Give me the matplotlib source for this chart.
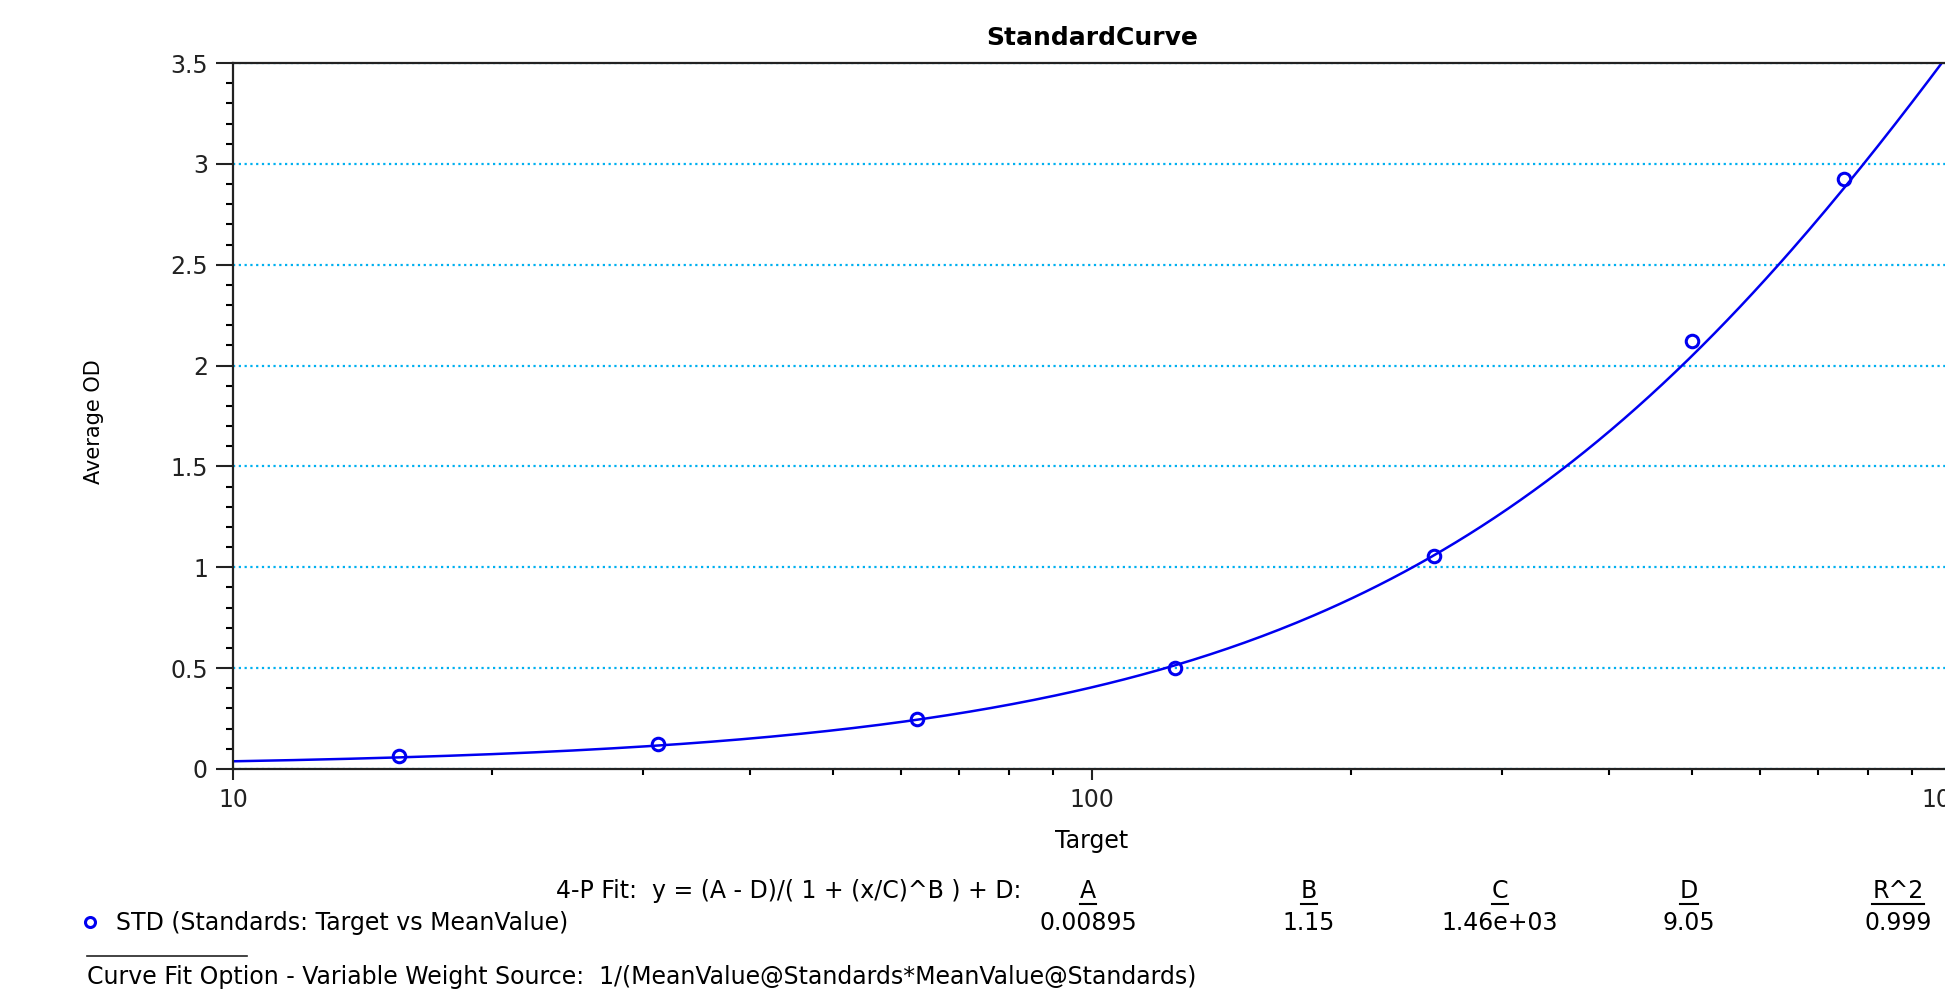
import numpy as np
import matplotlib
matplotlib.use('Agg')
import matplotlib.pyplot as plt
from matplotlib.lines import Line2D

plt.rcParams['font.family'] = ['DejaVu Sans']

# standards: target vs mean OD
target = [15.625, 31.25, 62.5, 125, 250, 500, 750]
mean_od = [0.064, 0.124, 0.248, 0.50, 1.055, 2.12, 2.925]

# 4-P fit parameters as printed under the chart
fit_names = ['A', 'B', 'C', 'D', 'R^2']
fit_labels = ['0.00895', '1.15', '1.46e+03', '9.05', '0.999']
A, B, C, D = 0.00895, 1.15, 1460.0, 9.05

blue = '#0000F0'
W, H = 1945, 1002
fig = plt.figure(figsize=(W / 100, H / 100), dpi=100)
ax = fig.add_axes([233 / W, 1 - 769 / H, 1718 / W, 706 / H])

xs = np.logspace(1, 3, 400)
ax.plot(xs, D + (A - D) / (1 + (xs / C) ** B), color=blue, lw=1.8)
pts, = ax.plot(target, mean_od, 'o', mfc='none', mec=blue, ms=9, mew=2.2,
               label='STD (Standards: Target vs MeanValue)')

ax.set_xscale('log')
ax.set_xlim(10, 1000)
ax.set_ylim(0, 3.5)
ax.set_yticks(np.arange(0, 3.51, 0.5))
ax.set_yticklabels(['0', '0.5', '1', '1.5', '2', '2.5', '3', '3.5'])
ax.set_yticks(np.arange(0, 3.51, 0.1), minor=True)
ax.set_xticks([10, 100, 1000])
ax.set_xticklabels(['10', '100', '1000'])
ax.yaxis.grid(True, which='major', color='#00B0F0', linestyle=(0, (1, 1.6)), lw=1.6)
ax.set_axisbelow(True)

ax.tick_params(axis='y', which='major', length=12, width=1.5, pad=6, labelsize=17, colors='#222222')
ax.tick_params(axis='y', which='minor', length=5, width=1.5)
ax.tick_params(axis='x', which='major', length=8, width=1.5, pad=6, labelsize=17, colors='#222222')
ax.tick_params(axis='x', which='minor', length=4, width=1.5)
for s in ['left', 'bottom', 'top']:
    ax.spines[s].set_linewidth(1.6)
    ax.spines[s].set_color('#222222')
ax.spines['right'].set_visible(False)

ax.set_title('StandardCurve', fontsize=18, fontweight='bold', pad=13)
ax.set_xlabel('Target', fontsize=17)
ax.set_ylabel('Average OD', fontsize=15)
ax.xaxis.set_label_coords(0.5, (769 - 829) / 706)
ax.yaxis.set_label_coords((104 - 233) / 1718, 0.4915)

# fit table under the chart
fs = 17
fig.text(1021 / W, 1 - 891 / H, '4-P Fit:  y = (A - D)/( 1 + (x/C)^B ) + D:',
         ha='right', va='center', fontsize=fs)
col_x = [1088, 1309, 1500, 1689, 1898]
heads = []
for cx, name, val in zip(col_x, fit_names, fit_labels):
    heads.append(fig.text(cx / W, 1 - 891 / H, name, ha='center', va='center', fontsize=fs))
    fig.text(cx / W, 1 - 923 / H, val, ha='center', va='center', fontsize=fs)

leg = fig.legend(handles=[pts], loc='center left', bbox_to_anchor=(78 / W, 1 - 923 / H),
                 frameon=False, fontsize=fs, handlelength=1.0, handletextpad=0.6,
                 borderpad=0, borderaxespad=0, markerscale=0.8)

fig.add_artist(Line2D([87 / W, 247 / W], [1 - 956 / H, 1 - 956 / H], color='#222222', lw=1.2))
fig.text(87 / W, 1 - 977 / H,
         'Curve Fit Option - Variable Weight Source:  1/(MeanValue@Standards*MeanValue@Standards)',
         ha='left', va='center', fontsize=fs)

# underline the column headers
fig.canvas.draw()
r = fig.canvas.get_renderer()
for t in heads:
    bb = t.get_window_extent(r)
    y = bb.y0 - 1
    fig.add_artist(Line2D([bb.x0 / W, bb.x1 / W], [y / H, y / H], color='black', lw=1.5))

fig.savefig('out.png', dpi=100)
